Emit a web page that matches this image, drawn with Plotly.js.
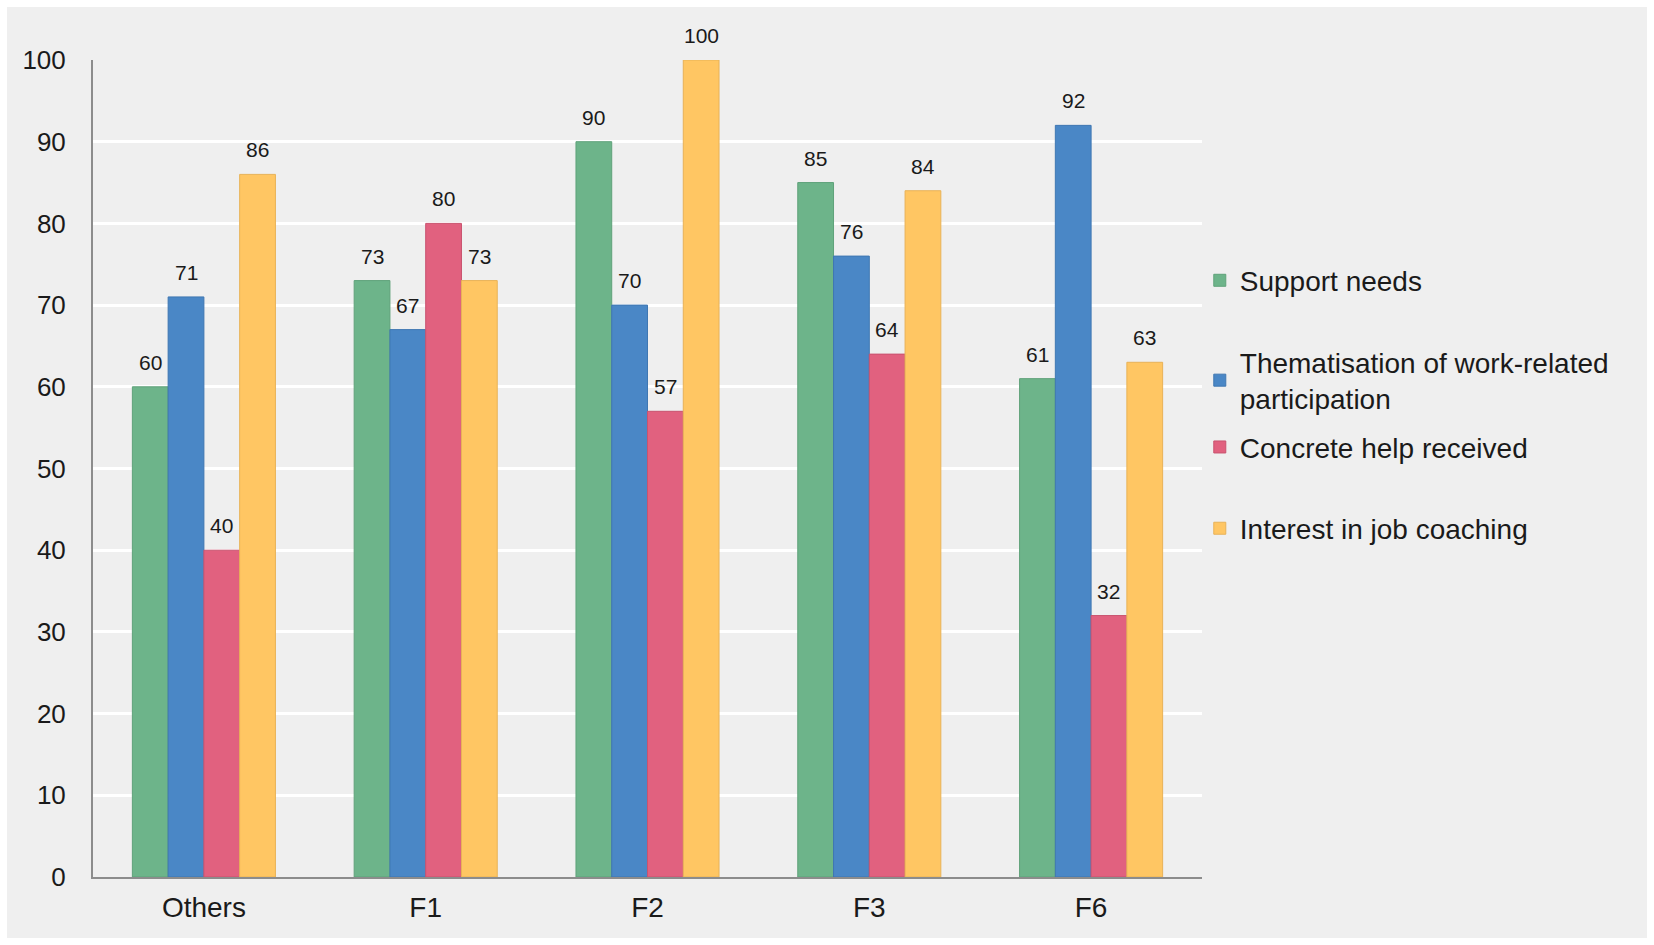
<!DOCTYPE html>
<html>
<head>
<meta charset="utf-8">
<script src="https://cdn.plot.ly/plotly-3.0.1.min.js"></script>
<style>
  html, body { margin: 0; padding: 0; background: #ffffff; }
  #chart { position: absolute; left: 7px; top: 7px; width: 1640px; height: 931px; }
</style>
</head>
<body>
<div id="chart"></div>
<script>
// groups on the x axis
var categories = ['Others', 'F1', 'F2', 'F3', 'F6'];

// percentages per series
var supportNeeds   = [60, 73, 90, 85, 61];
var thematisation  = [71, 67, 70, 76, 92];
var concreteHelp   = [40, 80, 57, 64, 32];
var jobCoaching    = [86, 73, 100, 84, 63];

var seriesNames = [
    'Support needs',
    'Thematisation of work-related<br>participation',
    'Concrete help received',
    'Interest in job coaching'
];
var seriesValues = [supportNeeds, thematisation, concreteHelp, jobCoaching];
var seriesColors = ['#6db48a', '#4a87c6', '#e1617f', '#ffc663'];
var lineColors   = ['#5fa27a', '#3f77b2', '#c9536f', '#e8b257'];

var yTicks = [0, 10, 20, 30, 40, 50, 60, 70, 80, 90, 100];

var legendNames = ['legend', 'legend2', 'legend3', 'legend4'];
// vertical centre of each legend entry (paper units)
var legendY = [0.730, 0.608, 0.526, 0.4265];

var bargap = 0.355;
var labelFont = { family: 'Liberation Sans, Arial, sans-serif', size: 21, color: '#1a1a1a' };

var plot_data = [];
var annotations = [];
var nSeries = seriesValues.length;
var barWidth = (1 - bargap) / nSeries;   // in category units
for (var i = 0; i < nSeries; i++) {
    plot_data.push({
        x: categories,
        y: seriesValues[i],
        name: seriesNames[i],
        type: 'bar',
        legend: legendNames[i],
        marker: {
            color: seriesColors[i],
            line: { color: lineColors[i], width: 1 }
        },
        hoverinfo: 'x+y+name'
    });
    // value labels above each bar, placed on the category scale
    for (var c = 0; c < categories.length; c++) {
        annotations.push({
            xref: 'x',
            yref: 'y',
            x: c + (i - (nSeries - 1) / 2) * barWidth,
            y: seriesValues[i][c],
            text: String(seriesValues[i][c]),
            showarrow: false,
            xanchor: 'center',
            yanchor: 'bottom',
            yshift: 11,
            font: labelFont
        });
    }
}

var legendFont = { family: 'Liberation Sans, Arial, sans-serif', size: 28, color: '#1a1a1a' };

var layout = {
    width: 1640,
    height: 931,
    margin: { l: 86, r: 445, t: 53, b: 61 },
    paper_bgcolor: '#efefef',
    plot_bgcolor: 'rgba(0,0,0,0)',
    barmode: 'group',
    bargap: bargap,
    bargroupgap: 0,
    font: { family: 'Liberation Sans, Arial, sans-serif', color: '#1a1a1a' },
    xaxis: {
        type: 'category',
        showgrid: false,
        showline: true,
        linecolor: '#8c8c8c',
        linewidth: 2,
        ticks: '',
        ticklabelstandoff: 4,
        tickfont: { size: 28, color: '#1a1a1a' }
    },
    yaxis: {
        range: [0, 100],
        tickvals: yTicks,
        showgrid: true,
        gridcolor: '#ffffff',
        gridwidth: 3,
        zeroline: false,
        showline: true,
        linecolor: '#8c8c8c',
        linewidth: 2,
        ticks: '',
        ticklabelstandoff: 20,
        tickfont: { size: 26, color: '#1a1a1a' }
    },
    annotations: annotations,
    showlegend: true
};

for (var j = 0; j < legendNames.length; j++) {
    layout[legendNames[j]] = {
        x: 0.998,
        xanchor: 'left',
        y: legendY[j],
        yanchor: 'middle',
        bgcolor: 'rgba(0,0,0,0)',
        font: legendFont,
        itemwidth: 30
    };
}

var config = { responsive: false, displayModeBar: false };
Plotly.newPlot(document.getElementById('chart'), plot_data, layout, config);
</script>
</body>
</html>
